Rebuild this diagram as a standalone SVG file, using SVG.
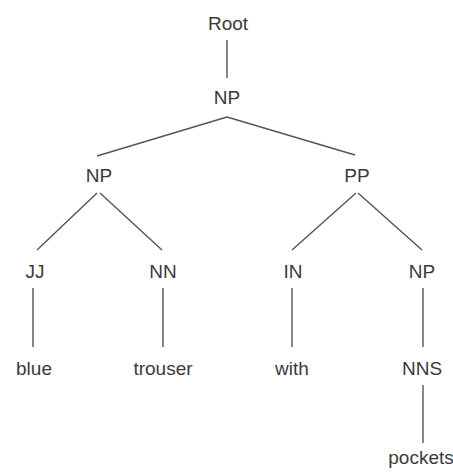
<svg xmlns="http://www.w3.org/2000/svg" width="453" height="474" viewBox="0 0 453 474">
<style>
text{font-family:"Liberation Sans",Arial,sans-serif;font-size:19px;fill:#3a3a3a;text-anchor:middle}
.e line{stroke:#555;stroke-width:1.4}
</style>
<rect width="453" height="474" fill="#fff"/>
<g class="e" id="connectors">
<line x1="227" y1="40" x2="227" y2="78"/>
<line x1="227" y1="117" x2="97" y2="156"/>
<line x1="227" y1="117" x2="355" y2="155"/>
<line x1="97" y1="193" x2="37" y2="250"/>
<line x1="100" y1="193" x2="162" y2="250"/>
<line x1="356" y1="193" x2="292" y2="250"/>
<line x1="358" y1="193" x2="422" y2="250"/>
<line x1="33" y1="288" x2="33" y2="347"/>
<line x1="163" y1="288" x2="163" y2="347"/>
<line x1="292" y1="288" x2="292" y2="347"/>
<line x1="423" y1="288" x2="423" y2="347"/>
<line x1="423" y1="385" x2="423" y2="443"/>
</g>
<g id="root"><text x="228" y="30">Root</text></g>
<g id="np1"><text x="227" y="104">NP</text></g>
<g id="np2"><text x="99" y="182">NP</text></g>
<g id="pp"><text x="357" y="182">PP</text></g>
<g id="jj"><text x="35" y="278">JJ</text></g>
<g id="nn"><text x="163" y="278">NN</text></g>
<g id="in"><text x="293" y="278">IN</text></g>
<g id="np3"><text x="422" y="278">NP</text></g>
<g id="blue"><text x="34" y="375">blue</text></g>
<g id="trouser"><text x="163" y="375">trouser</text></g>
<g id="with"><text x="292" y="375">with</text></g>
<g id="nns"><text x="422" y="375">NNS</text></g>
<g id="pockets"><text x="421" y="464">pockets</text></g>
</svg>
